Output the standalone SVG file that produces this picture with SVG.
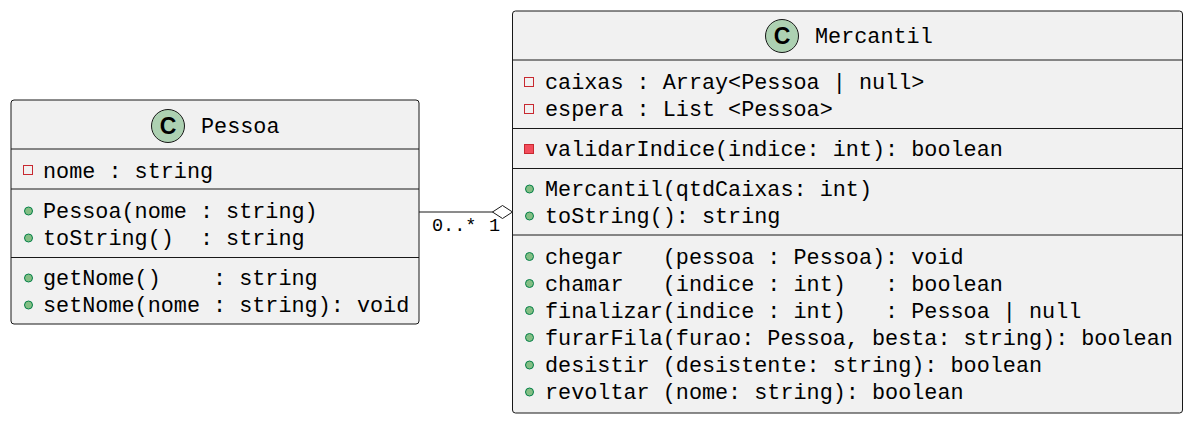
<svg xmlns="http://www.w3.org/2000/svg" width="1192" height="422" viewBox="0 0 1192 422" xml:space="preserve">
<style>
.box{fill:#f1f1f1;stroke:#181818;stroke-width:1}
.sep{stroke:#181818;stroke-width:1}
.t{font-family:"Liberation Mono",monospace;font-size:21.8px;fill:#000;white-space:pre}
.lbl{font-family:"Liberation Mono",monospace;font-size:18.5px;fill:#000;white-space:pre}
.ci{fill:#add1b2;stroke:#181818;stroke-width:1}
.cl{font-family:"Liberation Sans",Arial,sans-serif;font-weight:bold;font-size:23px;fill:#000;text-anchor:middle}
.pub{fill:#84be84;stroke:#038048;stroke-width:1}
.privf{fill:none;stroke:#c82930;stroke-width:1}
.privm{fill:#f24d5c;stroke:#c82930;stroke-width:1}
.edge{stroke:#181818;stroke-width:1;fill:none}
</style>
<rect width="1192" height="422" fill="#ffffff"/>
<g id="Pessoa">
<rect class="box" x="11" y="100" width="408" height="224" rx="3"/>
<circle class="ci" cx="168" cy="126" r="16.5"/>
<text class="cl" x="168" y="134">C</text>
<text class="t" x="201" y="133">Pessoa</text>
<line class="sep" x1="11" y1="149" x2="419" y2="149"/>
<rect class="privf" x="23.5" y="165.5" width="9" height="9"/>
<text class="t" x="43" y="178">nome : string</text>
<line class="sep" x1="11" y1="189" x2="419" y2="189"/>
<circle class="pub" cx="28.5" cy="211" r="4"/>
<text class="t" x="43" y="218">Pessoa(nome : string)</text>
<circle class="pub" cx="28.5" cy="238" r="4"/>
<text class="t" x="43" y="245">toString()  : string</text>
<line class="sep" x1="11" y1="257.5" x2="419" y2="257.5"/>
<circle class="pub" cx="28.5" cy="278" r="4"/>
<text class="t" x="43" y="285">getNome()    : string</text>
<circle class="pub" cx="28.5" cy="305" r="4"/>
<text class="t" x="43" y="312">setNome(nome : string): void</text>
</g>
<g id="Mercantil">
<rect class="box" x="512.5" y="11" width="670" height="402" rx="3"/>
<circle class="ci" cx="782" cy="36" r="16.5"/>
<text class="cl" x="782" y="44">C</text>
<text class="t" x="815" y="43">Mercantil</text>
<line class="sep" x1="512.5" y1="60" x2="1182.5" y2="60"/>
<rect class="privf" x="524.5" y="77.5" width="9" height="9"/>
<text class="t" x="545" y="89">caixas : Array&lt;Pessoa | null&gt;</text>
<rect class="privf" x="524.5" y="104.5" width="9" height="9"/>
<text class="t" x="545" y="116">espera : List &lt;Pessoa&gt;</text>
<line class="sep" x1="512.5" y1="128.5" x2="1182.5" y2="128.5"/>
<rect class="privm" x="524.5" y="144.5" width="9" height="9"/>
<text class="t" x="545" y="156">validarIndice(indice: int): boolean</text>
<line class="sep" x1="512.5" y1="168.5" x2="1182.5" y2="168.5"/>
<circle class="pub" cx="529.5" cy="189" r="4"/>
<text class="t" x="545" y="196">Mercantil(qtdCaixas: int)</text>
<circle class="pub" cx="529.5" cy="216" r="4"/>
<text class="t" x="545" y="223">toString(): string</text>
<line class="sep" x1="512.5" y1="235" x2="1182.5" y2="235"/>
<circle class="pub" cx="529.5" cy="256.5" r="4"/>
<text class="t" x="545" y="263.5">chegar   (pessoa : Pessoa): void</text>
<circle class="pub" cx="529.5" cy="283.5" r="4"/>
<text class="t" x="545" y="290.5">chamar   (indice : int)   : boolean</text>
<circle class="pub" cx="529.5" cy="310.5" r="4"/>
<text class="t" x="545" y="317.5">finalizar(indice : int)   : Pessoa | null</text>
<circle class="pub" cx="529.5" cy="337.5" r="4"/>
<text class="t" x="545" y="345">furarFila(furao: Pessoa, besta: string): boolean</text>
<circle class="pub" cx="529.5" cy="365" r="4"/>
<text class="t" x="545" y="372">desistir (desistente: string): boolean</text>
<circle class="pub" cx="529.5" cy="392" r="4"/>
<text class="t" x="545" y="399">revoltar (nome: string): boolean</text>
</g>
<g id="connectors">
<line class="edge" x1="419" y1="212" x2="493" y2="212"/>
<polygon class="edge" points="512.5,212 502.5,205.5 492.5,212 502.5,218.5" style="fill:#ffffff"/>
<text class="lbl" x="432" y="231">0..*</text>
<text class="lbl" x="489" y="231">1</text>
</g>
</svg>
